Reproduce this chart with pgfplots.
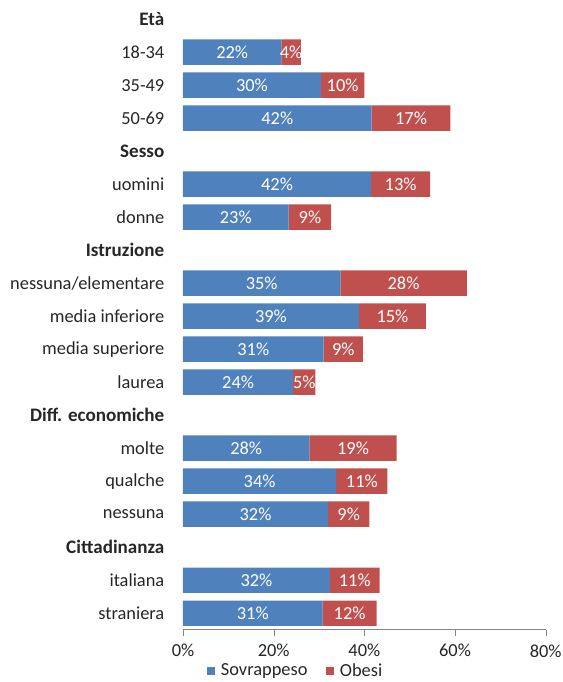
\documentclass[border=0pt]{standalone}
\usepackage{fontspec}
\setmainfont{Carlito}
\usepackage{pgfplots}
\usepackage{pgfplotstable}
\pgfplotsset{compat=1.18}
\definecolor{cblue}{HTML}{4F81BD}
\definecolor{cred}{HTML}{C0504D}
\definecolor{axgray}{HTML}{868686}
\definecolor{txt}{HTML}{262626}

\pgfplotstableread{
row sov ob lsov lob
17 21.7 4.3 22 4
16 30.4 9.6 30 10
15 41.6 17.4 42 17
13 41.5 13.0 42 13
12 23.3 9.4 23 9
10 34.7 27.9 35 28
9 38.8 14.8 39 15
8 31.0 8.7 31 9
7 24.3 4.9 24 5
5 27.9 19.2 28 19
4 33.8 11.3 34 11
3 32.0 9.1 32 9
1 32.4 11.0 32 11
0 30.8 11.9 31 12
}\datatab

\newcommand{\fs}{\fontsize{13.8pt}{16pt}\selectfont}
\newcommand{\hd}[1]{\fontsize{14.3pt}{16pt}\selectfont\bfseries #1}

\pgfplotsset{
  chartgeom/.style={
    at={(0pt,0pt)}, anchor=south west,
    scale only axis, width=272pt, height=470.25pt,
    xmin=0, xmax=80, ymin=-0.5, ymax=18.5,
  }
}

\begin{document}
\begin{tikzpicture}
\useasboundingbox (-137.25pt,-39.2pt) rectangle (285pt,472.3pt);
\begin{axis}[
  chartgeom,
  xbar stacked, bar width=19.1pt,
  axis x line*=bottom, axis y line*=left,
  axis line style={-},
  x axis line style={draw=axgray},
  y axis line style={draw=none},
  xtick={0,20,40,60,80},
  xticklabel={\pgfmathprintnumber{\tick}\%},
  /pgf/number format/assume math mode=true,
  tick align=outside,
  major tick length=4.5pt,
  xtick style={draw=axgray},
  ytick style={draw=none},
  ytick={0,...,18},
  yticklabels={straniera, italiana, \hd{Cittadinanza}, nessuna, qualche, molte, \hd{Diff. economiche}, laurea, media superiore, media inferiore, nessuna/elementare, \hd{Istruzione}, donne, uomini, \hd{Sesso}, 50-69, 35-49, 18-34, \hd{Età}},
  yticklabel style={font=\fs, text=txt, xshift=-6pt},
  xticklabel style={font=\fs, text=txt, yshift=-3pt},
  legend style={at={(axis description cs:0.055,-0.0654)}, anchor=west, draw=none, fill=none, font=\fs, text=txt, legend columns=2, /tikz/every even column/.append style={column sep=12pt}},
  legend image code/.code={\fill[#1] (0pt,-3pt) rectangle (6pt,3pt); \path (8.25pt,0pt);},
]
\addplot[fill=cblue, draw=none] table[x=sov, y=row] {\datatab};
\addlegendentry{Sovrappeso}
\addplot[fill=cred, draw=none] table[x=ob, y=row] {\datatab};
\addlegendentry{Obesi}
\end{axis}
\begin{axis}[
  chartgeom, hide axis,
  point meta=explicit symbolic,
  nodes near coords={\pgfplotspointmeta\%},
  every node near coord/.style={anchor=center, text=white, font=\fs, inner sep=0pt},
]
\addplot[draw=none, mark=none] table[x expr={\thisrow{sov}/2}, y=row, meta=lsov] {\datatab};
\addplot[draw=none, mark=none] table[x expr={\thisrow{sov}+\thisrow{ob}/2}, y=row, meta=lob] {\datatab};
\end{axis}
\end{tikzpicture}
\end{document}
